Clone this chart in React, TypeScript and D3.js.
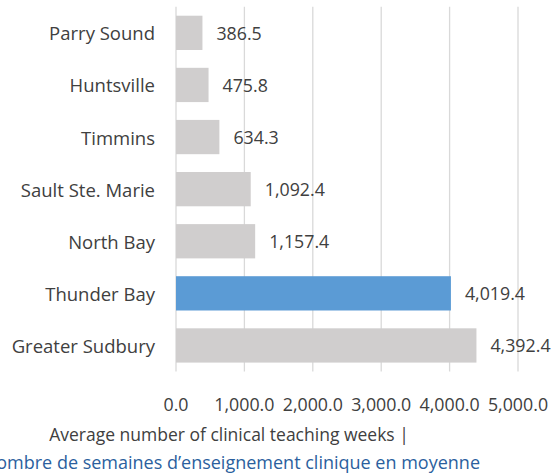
import React from "react";
import * as d3 from "d3";

const categories = ["Parry Sound", "Huntsville", "Timmins", "Sault Ste. Marie", "North Bay", "Thunder Bay", "Greater Sudbury"];
const values = [386.5, 475.8, 634.3, 1092.4, 1157.4, 4019.4, 4392.4];
const highlight = "Thunder Bay";
const xTicks = [0, 1000, 2000, 3000, 4000, 5000];
const titleLine1 = "Average number of clinical teaching weeks |";
const titleLine2 = "Nombre de semaines d\u2019enseignement clinique en moyenne";

const W = 558;
const H = 473;
const FONT = "'Open Sans', 'Noto Sans', sans-serif";

export default function App() {
  const x = d3.scaleLinear().domain([0, 5000]).range([176, 518]);
  const y = d3
    .scaleBand<string>()
    .domain(categories)
    .range([6.8, 371.5])
    .paddingInner(0.342)
    .paddingOuter(0.171);
  const fmt = d3.format(",.1f");
  const [y0, y1] = y.range();

  return (
    <svg
      width={W}
      height={H}
      style={{ position: "absolute", left: 0, top: 0, background: "#fff" }}
      fontFamily={FONT}
    >
      {xTicks.map((t) => (
        <line key={"g" + t} x1={x(t)} x2={x(t)} y1={y0} y2={y1} stroke="#d9d9d9" strokeWidth={1.3} />
      ))}
      {categories.map((c, i) => (
        <g key={c}>
          <rect
            x={x(0)}
            y={y(c)}
            width={x(values[i]) - x(0)}
            height={y.bandwidth()}
            fill={c === highlight ? "#5b9bd5" : "#d0cece"}
          />
          <text
            x={155}
            y={(y(c) as number) + y.bandwidth() / 2}
            textAnchor="end"
            dominantBaseline="central"
            fontSize={18.5}
            fill="#404040"
          >
            {c}
          </text>
          <text
            x={x(values[i]) + 14}
            y={(y(c) as number) + y.bandwidth() / 2}
            dominantBaseline="central"
            fontSize={17.8}
            fill="#404040"
          >
            {fmt(values[i])}
          </text>
        </g>
      ))}
      {xTicks.map((t) => (
        <text key={"t" + t} x={x(t)} y={411} textAnchor="middle" fontSize={17.8} fill="#404040">
          {fmt(t)}
        </text>
      ))}
      <text x={229} y={441} textAnchor="middle" fontSize={17.5} fill="#404040">
        {titleLine1}
      </text>
      <text x={480} y={469} textAnchor="end" fontSize={18} fill="#2b5f9e">
        {titleLine2}
      </text>
    </svg>
  );
}
